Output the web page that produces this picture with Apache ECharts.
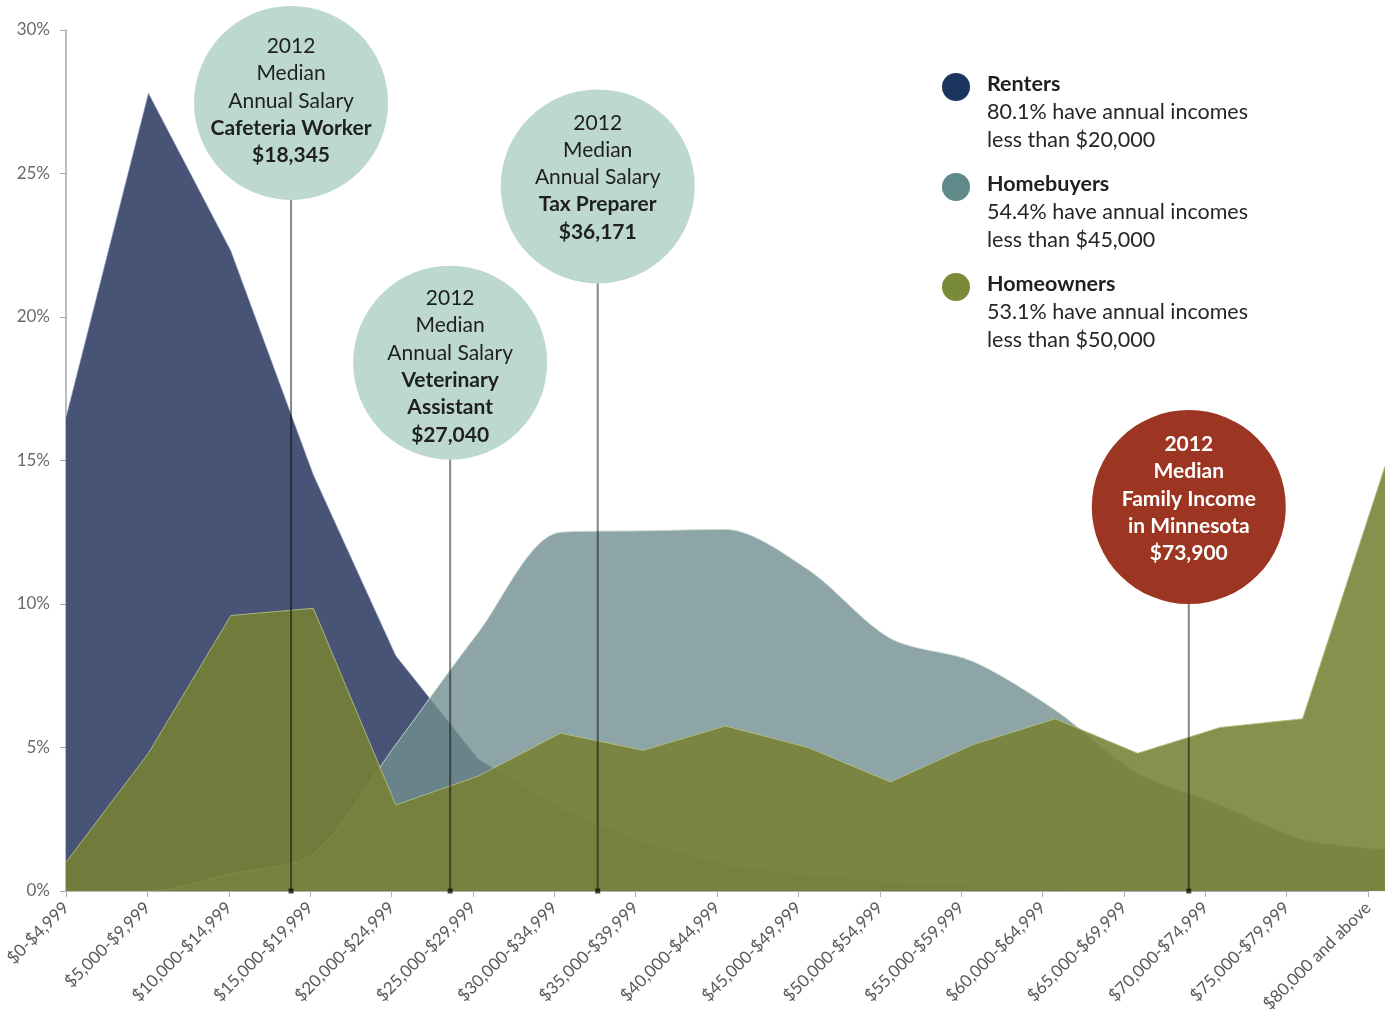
<!DOCTYPE html>
<html>
<head>
<meta charset="utf-8">
<script src="https://cdn.jsdelivr.net/npm/echarts@6/dist/echarts.min.js"></script>
<style>
  html, body { margin: 0; padding: 0; background: #ffffff; }
  #chart { width: 1393px; height: 1024px; }
</style>
</head>
<body>
<div id="chart"></div>
<script>
// Income bands on the horizontal axis
const incomeBands = [
  '$0-$4,999', '$5,000-$9,999', '$10,000-$14,999', '$15,000-$19,999',
  '$20,000-$24,999', '$25,000-$29,999', '$30,000-$34,999', '$35,000-$39,999',
  '$40,000-$44,999', '$45,000-$49,999', '$50,000-$54,999', '$55,000-$59,999',
  '$60,000-$64,999', '$65,000-$69,999', '$70,000-$74,999', '$75,000-$79,999',
  '$80,000 and above'
];

// Share of each household group in each income band (%)
const renters    = [16.5, 27.8, 22.3, 14.5, 8.2, 4.6, 2.85, 1.7, 0.9, 0.55, 0.3, 0.15, 0.05, 0, 0, 0, 0];
const homebuyers = [0, 0, 0.6, 1.3, 5.1, 9.0, 12.5, 12.55, 12.6, 11.2, 8.8, 8.0, 6.3, 4.1, 3.0, 1.8, 1.45];
const homeowners = [1.0, 4.8, 9.6, 9.85, 3.0, 4.0, 5.5, 4.9, 5.75, 5.0, 3.8, 5.1, 6.0, 4.8, 5.7, 6.0, 14.8];

// Percent axis
const yMax = 30;
const yStep = 5;

// Legend entries
const groupNames = ['Renters', 'Homebuyers', 'Homeowners'];
const groupNotes = [
  ['80.1% have annual incomes', 'less than $20,000'],
  ['54.4% have annual incomes', 'less than $45,000'],
  ['53.1% have annual incomes', 'less than $50,000']
];

// Salary callouts: plain lines, bold lines, position along the band axis, height (%)
const calloutPlain = [
  ['2012', 'Median', 'Annual Salary'],
  ['2012', 'Median', 'Annual Salary'],
  ['2012', 'Median', 'Annual Salary'],
  []
];
const calloutBold = [
  ['Cafeteria Worker', '$18,345'],
  ['Veterinary', 'Assistant', '$27,040'],
  ['Tax Preparer', '$36,171'],
  ['2012', 'Median', 'Family Income', 'in Minnesota', '$73,900']
];
const calloutAxisPos = [2.73, 4.66, 6.45, 13.62];
const calloutHeight  = [27.46, 18.41, 24.55, 13.38];

// ---- styling ----
const FONT = 'Lato, "Noto Sans", sans-serif';
const areaFill = ['#475475', 'rgba(112,142,144,0.80)', 'rgba(119,129,52,0.88)'];
const areaEdge = ['rgba(150,165,200,0.6)', 'rgba(205,220,210,0.9)', 'rgba(180,190,130,0.9)'];
const dotColors = ['#1b355e', '#5f8a89', '#798a38'];
const calloutFill = ['#bdd8cf', '#bdd8cf', '#bdd8cf', '#9c3522'];
const calloutText = ['#1f1f1f', '#1f1f1f', '#1f1f1f', '#ffffff'];
const calloutShift = [-2, 4, -9, -8];

const chart = echarts.init(document.getElementById('chart'), null, { renderer: 'canvas' });

const areaSeries = [renters, homebuyers, homeowners].map((vals, i) => ({
  name: groupNames[i],
  type: 'line',
  xAxisIndex: 0,
  yAxisIndex: 0,
  data: vals,
  symbol: 'none',
  smooth: i === 1 ? 0.3 : false,
  z: 2 + i * 0.1,
  lineStyle: { color: areaEdge[i], width: 1 },
  areaStyle: { color: areaFill[i], opacity: 1 },
  itemStyle: { color: areaFill[i] }
}));

const connectorSeries = calloutAxisPos.map((p, i) => ({
  type: 'line',
  xAxisIndex: 1,
  yAxisIndex: 0,
  z: 5,
  showSymbol: true,
  silent: true,
  lineStyle: { color: 'rgba(0,0,0,0.48)', width: 2 },
  itemStyle: { color: 'rgba(20,25,10,0.8)' },
  data: [
    { value: [p, 0], symbol: 'rect', symbolSize: 5 },
    { value: [p, calloutHeight[i]], symbol: 'none' }
  ]
}));

const calloutSeries = {
  type: 'scatter',
  xAxisIndex: 1,
  yAxisIndex: 0,
  z: 6,
  silent: true,
  symbol: 'circle',
  symbolSize: 194,
  data: calloutAxisPos.map((p, i) => ({
    value: [p, calloutHeight[i]],
    itemStyle: { color: calloutFill[i], opacity: 1 },
    label: {
      show: true,
      position: 'inside',
      offset: [0, calloutShift[i]],
      formatter: () => calloutPlain[i].map(t => '{p|' + t + '}')
        .concat(calloutBold[i].map(t => '{b|' + t + '}')).join('\n'),
      rich: {
        p: { fontFamily: FONT, fontSize: 21, lineHeight: 27.3, color: calloutText[i], align: 'center' },
        b: { fontFamily: FONT, fontSize: 21, lineHeight: 27.3, fontWeight: 'bold', color: calloutText[i], align: 'center' }
      }
    }
  }))
};

// Legend drawn as dots with a bold heading and a two-line note
const legendX = 956, legendY = 87, legendGap = 100;
const legendGraphics = [];
groupNames.forEach((name, i) => {
  const cy = legendY + i * legendGap;
  legendGraphics.push({ type: 'circle', shape: { cx: legendX, cy: cy, r: 14 }, style: { fill: dotColors[i] }, z: 10 });
  legendGraphics.push({
    type: 'text', x: legendX + 31, y: cy - 3, z: 10,
    style: { text: name, fill: '#1f1f1f', font: 'bold 21.5px ' + FONT, textVerticalAlign: 'middle' }
  });
  legendGraphics.push({
    type: 'text', x: legendX + 31, y: cy + 11, z: 10,
    style: { text: groupNotes[i].join('\n'), fill: '#262626', font: '21.5px ' + FONT, lineHeight: 28, textVerticalAlign: 'top' }
  });
});

const option = {
  animation: false,
  backgroundColor: '#ffffff',
  grid: [
    { left: 66, right: 8, top: 30, bottom: 133, containLabel: false, outerBoundsMode: 'none' },
    { left: 66, width: 1302, top: 30, bottom: 133, containLabel: false, outerBoundsMode: 'none' }
  ],
  xAxis: [
    { type: 'category', gridIndex: 0, data: incomeBands, boundaryGap: false, show: false },
    { type: 'value', gridIndex: 0, min: 0, max: incomeBands.length - 1, show: false },
    {
      type: 'category', gridIndex: 1, data: incomeBands, boundaryGap: false,
      axisLine: { show: true, lineStyle: { color: '#b0b0b0', width: 1 } },
      axisTick: { show: true, alignWithLabel: true, length: 6, lineStyle: { color: '#b0b0b0' } },
      axisLabel: {
        show: true, interval: 0, rotate: 45, margin: 14,
        color: '#595959', fontFamily: FONT, fontSize: 17
      },
      splitLine: { show: false }
    }
  ],
  yAxis: [
    {
      type: 'value', gridIndex: 0, min: 0, max: yMax, interval: yStep,
      axisLine: { show: true, lineStyle: { color: '#a6a6a6', width: 1.5 } },
      axisTick: { show: true, length: 6, lineStyle: { color: '#a6a6a6' } },
      axisLabel: {
        margin: 16, color: '#6a6a6a', fontFamily: FONT, fontSize: 17,
        formatter: v => v + '%'
      },
      splitLine: { show: false }
    },
    { type: 'value', gridIndex: 1, min: 0, max: yMax, show: false }
  ],
  series: areaSeries.concat(connectorSeries, [calloutSeries]),
  graphic: legendGraphics
};

chart.setOption(option);
</script>
</body>
</html>
